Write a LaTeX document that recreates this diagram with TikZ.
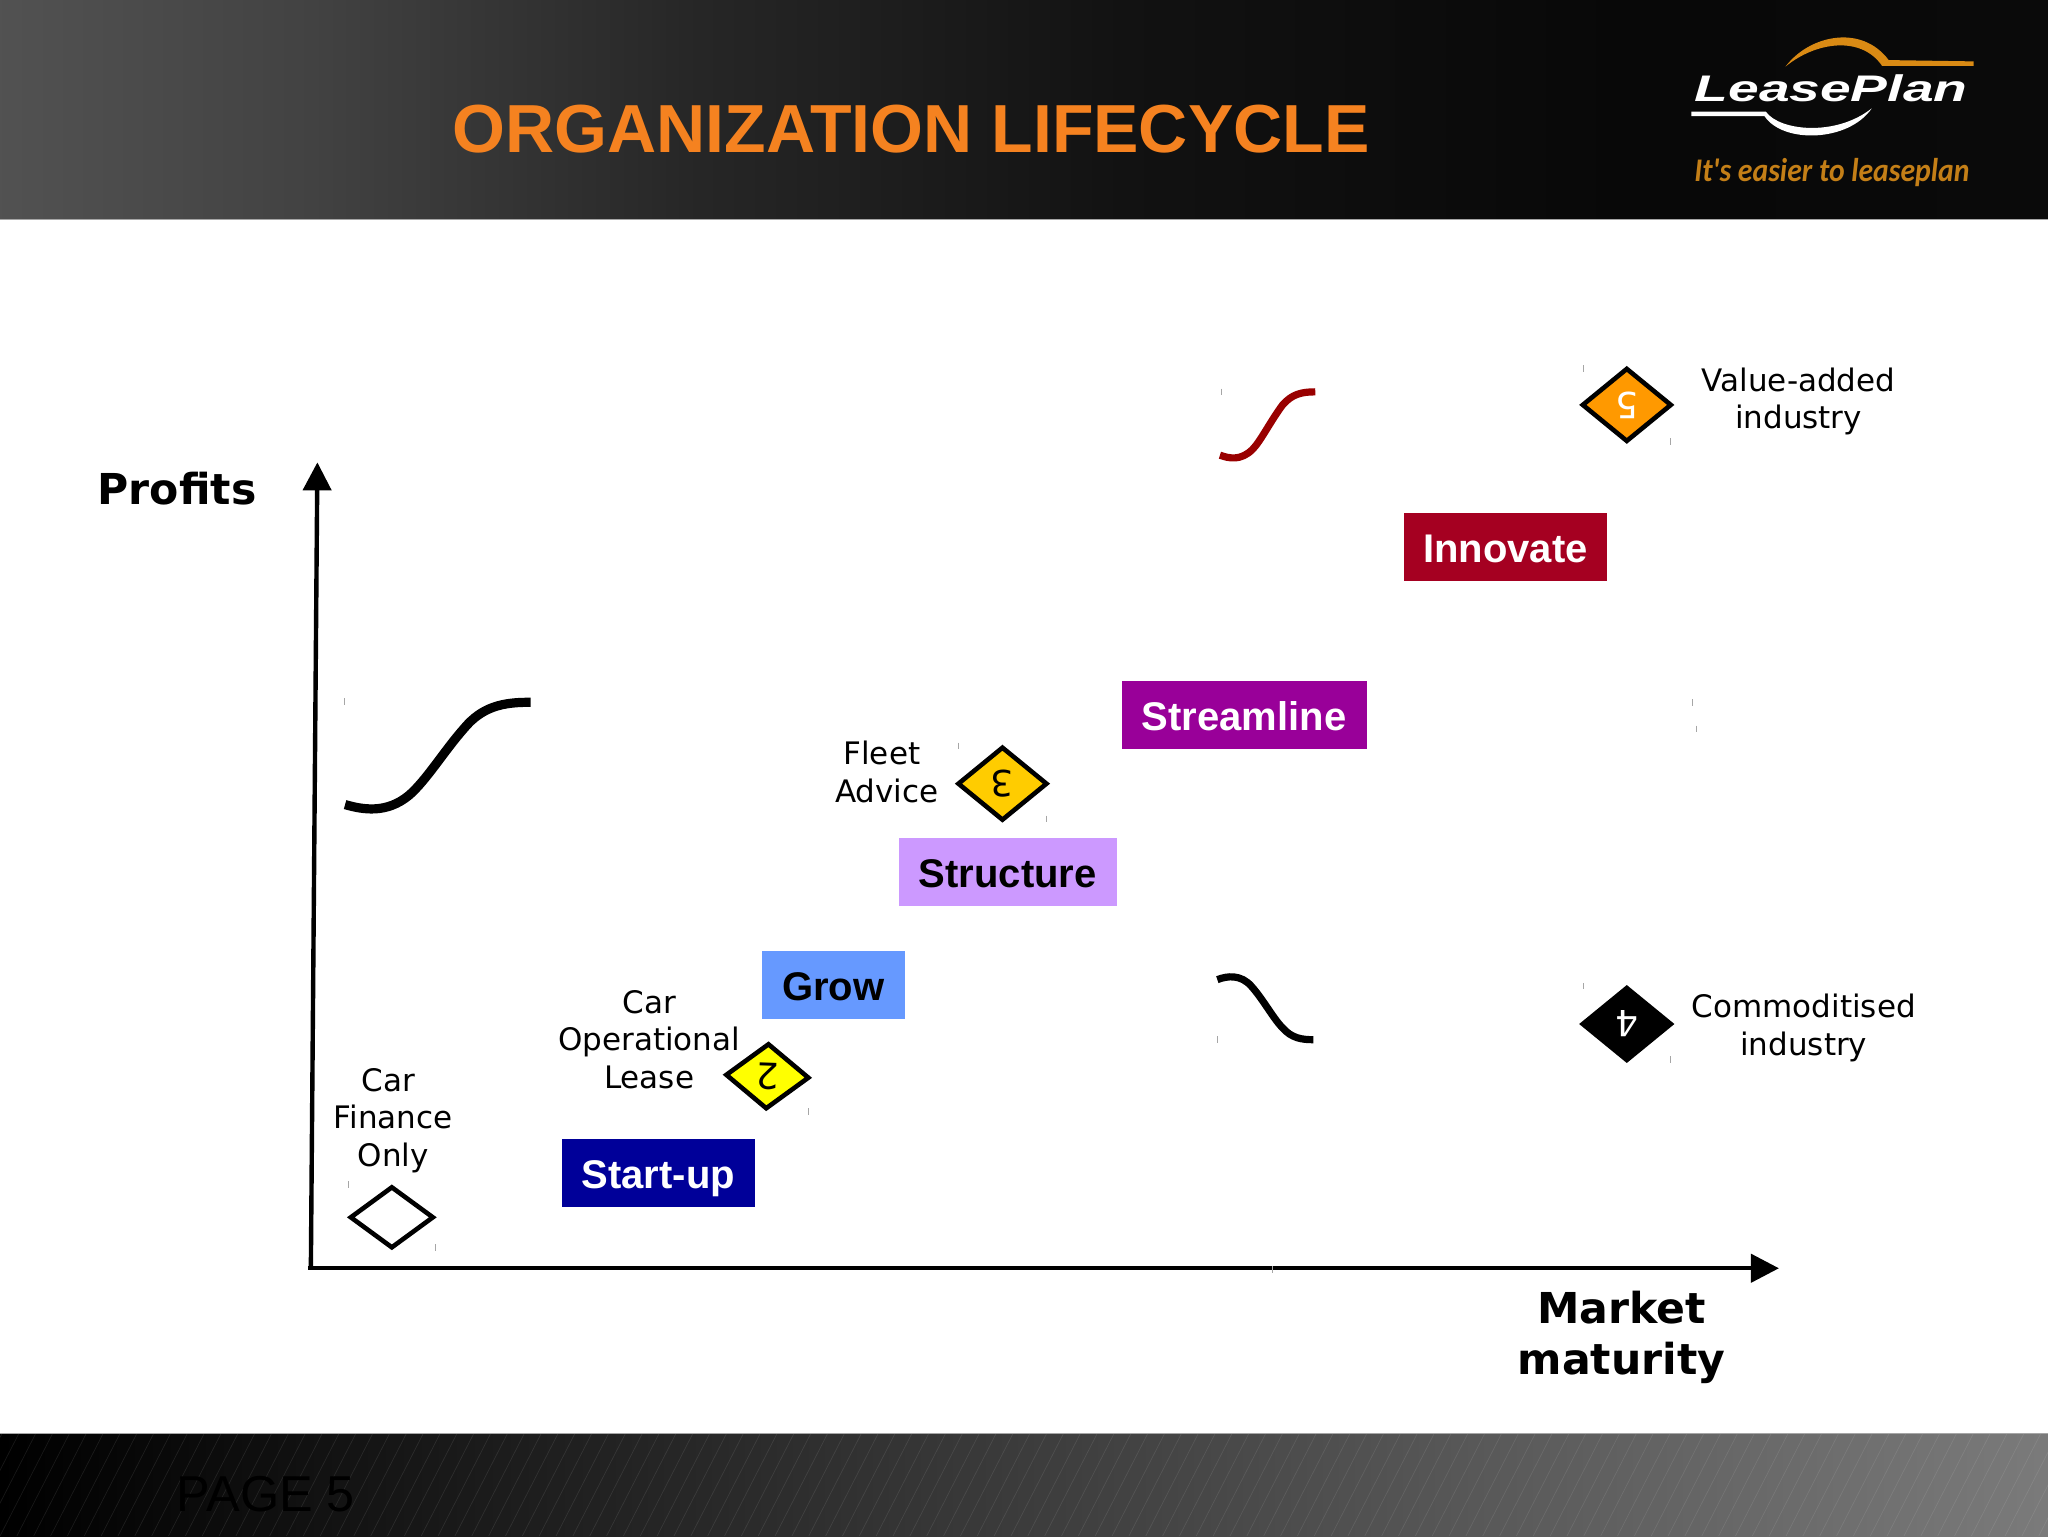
\documentclass[tikz,border=0pt]{standalone}
\usepackage{fontspec}
\setmainfont{DejaVu Sans}
\newfontfamily\arialfont{Liberation Sans}
\newfontfamily\tagfont{Carlito}
\usetikzlibrary{arrows.meta,shapes.geometric}
\definecolor{titleorange}{HTML}{F58220}
\definecolor{logoorange}{HTML}{D98A14}
\definecolor{tagorange}{HTML}{C47F17}
\definecolor{innovatecol}{HTML}{A50021}
\definecolor{streamcol}{HTML}{990099}
\definecolor{structcol}{HTML}{CC99FF}
\definecolor{growcol}{HTML}{6699FF}
\definecolor{startcol}{HTML}{000099}
\definecolor{curvered}{HTML}{990000}
\definecolor{d2col}{HTML}{FFFF00}
\definecolor{d3col}{HTML}{FFCC00}
\definecolor{d5col}{HTML}{FF9900}
\pgfdeclarehorizontalshading{headshade}{100bp}{
 color(0bp)=(black!68); color(25bp)=(black!68); color(32.5bp)=(black!74); color(42bp)=(black!85);
 color(52.5bp)=(black!93); color(65bp)=(black!97); color(75bp)=(black!96); color(100bp)=(black!96)}
\pgfdeclarehorizontalshading{footshade}{100bp}{
 color(0bp)=(black); color(25bp)=(black); color(39.5bp)=(black!87); color(61.5bp)=(black!65);
 color(75bp)=(black!52); color(100bp)=(black!52)}
\tikzset{
  x=0.65306pt,y=-0.65306pt,
  stage/.style={rectangle,inner sep=0pt,outer sep=0pt,minimum height=34pt,text height=15.6pt,text depth=0pt,
    font=\arialfont\bfseries\fontsize{20}{24}\selectfont},
  caption/.style={align=center,inner sep=0pt,font=\fontsize{15.5}{18.6}\selectfont},
  axislabel/.style={align=center,inner sep=0pt,font=\bfseries\fontsize{21.3}{25.5}\selectfont},
  badge/.style={diamond,draw=black,line width=2.3pt,inner sep=0pt,outer sep=0pt,
    minimum width=44pt,minimum height=36pt,rotate=180,font=\fontsize{18}{20}\selectfont},
  axisline/.style={line width=2.2pt,-{Triangle[length=14pt,width=14pt]}},
  scurve/.style={line width=4.6pt},
  scurvethin/.style={line width=3.6pt},
  speck/.style={black!35,line width=0.4pt},
}
\begin{document}
\begin{tikzpicture}
\useasboundingbox (0,0) rectangle (1568,1176);
% bands
\shade[shading=headshade] (0,0) rectangle (1568,168);
\shade[shading=footshade] (0,1098) rectangle (1568,1176);
\draw[black!35,line width=0.5pt] (0,168.2) -- (1568,168.2);
\draw[black!35,line width=0.5pt] (0,1097.8) -- (1568,1097.8);
\begin{scope}
  \clip (0,1098) rectangle (1568,1176);
  \foreach \i in {-4,...,124}{
    \draw[white,opacity=0.09,line width=0.35pt] (\i*12.9,1176) -- (\i*12.9+40,1098);
  }
\end{scope}
% title
\node[inner sep=0pt,text=titleorange,font=\arialfont\bfseries\fontsize{34}{40}\selectfont] (title) at (697.5,99) {ORGANIZATION LIFECYCLE};
\node[inner sep=0pt,text=black,font=\arialfont\fontsize{25.2}{30}\selectfont] (page) at (203.5,1144) {PAGE 5};
% logo
\fill[logoorange] (1367,51) .. controls (1385,27) and (1425,18) .. (1446,46) -- (1511,47) -- (1511,50.5) -- (1441,50.5) .. controls (1425,27) and (1390,32) .. (1367,51) -- cycle;
\fill[white] (1295,85.5) -- (1352,85.5) .. controls (1362,100) and (1405,105) .. (1433,83) .. controls (1415,109) and (1365,110) .. (1351,89) -- (1295,89) -- cycle;
\node[anchor=base west,inner sep=0pt,text=white,xscale=1.49,transform shape,font=\arialfont\bfseries\itshape\fontsize{18.5}{22}\selectfont] (logo) at (1297,78) {LeasePlan};
\node[anchor=base west,inner sep=0pt,text=tagorange,xscale=0.9,transform shape,font=\tagfont\bfseries\itshape\fontsize{16.5}{20}\selectfont] (tagline) at (1297,139) {It's easier to leaseplan};
% axes
\coordinate (origin) at (238,971);
\coordinate (xstart) at (236,971);
\coordinate (ytip) at (243,354);
\coordinate (xtip) at (1362,971);
\draw[axisline] (origin) -- (ytip);
\draw[axisline] (xstart) -- (xtip);
\node[axislabel] (profits) at (135.5,374) {Profits};
\node[axislabel] (market) at (1241.5,1024) {Market\\maturity};
% stage boxes
\node[stage,fill=innovatecol,text=white,minimum width=101.8pt] (innovate) at (1152.5,419) {Innovate};
\node[stage,fill=streamcol,text=white,minimum width=122.4pt] (streamline) at (952.5,547.3) {Streamline};
\node[stage,fill=structcol,text=black,minimum width=109pt] (structure) at (771.5,667.3) {Structure};
\node[stage,fill=growcol,text=black,minimum width=71.8pt] (grow) at (638,754.3) {Grow};
\node[stage,fill=startcol,text=white,minimum width=96.6pt] (startup) at (504,898.3) {Start-up};
% badges
\node[badge,fill=white,minimum width=41pt,minimum height=30pt,rotate=180] (d1) at (300,932) {};
\node[badge,fill=d2col,minimum width=41pt,minimum height=32pt,rotate=-2] (d2) at (587.5,824) {2};
\node[badge,fill=d3col] (d3) at (767.5,600) {3};
\node[badge,fill=black,text=white] (d4) at (1245.5,784) {4};
\node[badge,fill=d5col,text=white] (d5) at (1245.5,310) {5};
% captions
\node[caption] (c1) at (301,858) {Car\hspace*{5pt}\\Finance\\Only};
\node[caption] (c2) at (497,796) {Car\\Operational\\Lease};
\node[caption] (c3) at (679,591) {Fleet\hspace*{5pt}\\Advice};
\node[caption] (c4) at (1381,787) {Commoditised\\industry};
\node[caption] (c5) at (1377,307.5) {Value-added\\industry};
% curves
\draw[scurve] (264.2,616) .. controls (278,620) and (296,623) .. (313,609) .. controls (326,598) and (340,575) .. (355,558) .. controls (369,541) and (385,537.5) .. (406.3,537.7);
\draw[scurvethin,curvered] (934,348.5) .. controls (941,351) and (950,353) .. (959,344) .. controls (965,338) and (973,322) .. (982,310) .. controls (989,302) and (996,300) .. (1007,300);
\draw[scurvethin] (932,750) .. controls (940,747) and (950,746) .. (958,755) .. controls (967,765) and (975,780) .. (982,787) .. controls (989,795) and (997,796) .. (1005.5,796);
% stray marks
\foreach \px/\py in {264/537,935/300,1212/282,1279/338,1296/538,1299/558,734/571,801/627,619/851,267/907,333/955,932/796,1212/755,1279/811,974/972}{
  \draw[speck] (\px,\py-2.5) -- (\px,\py+2.5);
}
\end{tikzpicture}
\end{document}
